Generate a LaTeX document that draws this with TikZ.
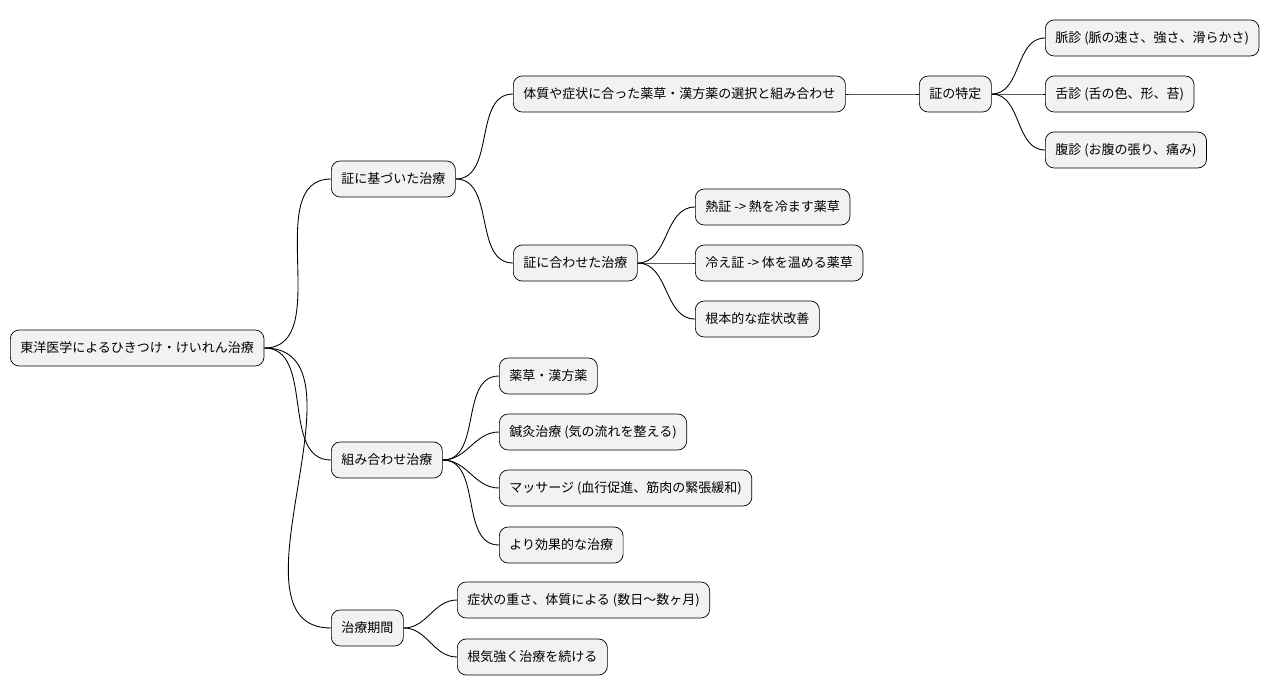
\documentclass[tikz,border=0pt]{standalone}
\usepackage{fontspec}
\setmainfont{Noto Sans CJK JP}
\begin{document}
\begin{tikzpicture}[x=0.02cm,y=-0.02cm,
  idea/.style={draw=black,fill=gray!10,rounded corners=5pt,anchor=west,
    minimum height=0.72cm,inner xsep=0.2cm,font=\fontsize{7.4}{9}\selectfont},
  branch/.style={draw=black,line width=0.5pt}]
\useasboundingbox (0,0) rectangle (1288,696);

% root and first level
\node[idea] (root) at (10,348) {東洋医学によるひきつけ・けいれん治療};
\node[idea] (sho) at (331,179) {証に基づいた治療};
\node[idea] (kumi) at (331,460) {組み合わせ治療};
\node[idea] (kikan) at (331,628) {治療期間};

% second level
\node[idea] (sentaku) at (513,94) {体質や症状に合った薬草・漢方薬の選択と組み合わせ};
\node[idea] (tokutei) at (919,94) {証の特定};
\node[idea] (myaku) at (1045,38) {脈診 (脈の速さ、強さ、滑らかさ)};
\node[idea] (zetsu) at (1045,94) {舌診 (舌の色、形、苔)};
\node[idea] (fuku) at (1045,150) {腹診 (お腹の張り、痛み)};
\node[idea] (awase) at (513,263) {証に合わせた治療};
\node[idea] (netsu) at (695,207) {熱証 -{}> 熱を冷ます薬草};
\node[idea] (hie) at (695,263) {冷え証 -{}> 体を温める薬草};
\node[idea] (kaizen) at (695,319) {根本的な症状改善};

\node[idea] (yakuso) at (499,376) {薬草・漢方薬};
\node[idea] (shinkyu) at (499,432) {鍼灸治療 (気の流れを整える)};
\node[idea] (massage) at (499,488) {マッサージ (血行促進、筋肉の緊張緩和)};
\node[idea] (koka) at (499,545) {より効果的な治療};

\node[idea] (omosa) at (457,600) {症状の重さ、体質による (数日〜数ヶ月)};
\node[idea] (konki) at (457,657) {根気強く治療を続ける};

% connectors
\foreach \a/\b in {root/sho,root/kumi,root/kikan,sho/sentaku,sho/awase,
  sentaku/tokutei,tokutei/myaku,tokutei/zetsu,tokutei/fuku,
  awase/netsu,awase/hie,awase/kaizen,
  kumi/yakuso,kumi/shinkyu,kumi/massage,kumi/koka,
  kikan/omosa,kikan/konki}
  \draw[branch] (\a.east) to[out=0,in=180] (\b.west);
\end{tikzpicture}
\end{document}
